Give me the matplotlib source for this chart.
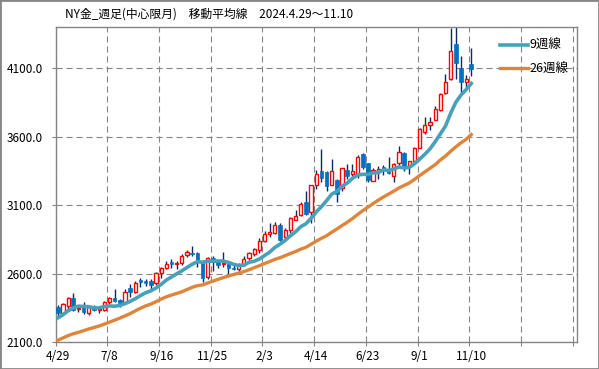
import matplotlib
matplotlib.use("Agg")
import matplotlib.pyplot as plt
from matplotlib.patches import Rectangle
import numpy as np
import pandas as pd

plt.rcParams['font.family'] = ['Noto Sans CJK JP', 'DejaVu Sans']

# 4/29より前の終値 (移動平均の計算用, 25週)
pre_close = [1932, 1975, 1992, 2072, 2010, 2025, 2058, 2062, 2041, 2041,
             2019, 2008, 2044, 2028, 2014, 2036, 2085, 2178, 2155, 2150,
             2230, 2340, 2370, 2410, 2342]

# 週足 2024/4/29 ~ 2025/11/10
week_open = [2354, 2314, 2363, 2420, 2338, 2354, 2312, 2350, 2335, 2334,
             2395, 2420, 2407, 2388, 2493, 2468, 2554, 2549, 2546, 2529,
             2607, 2644, 2688, 2672, 2676, 2737, 2748, 2749, 2688, 2574,
             2712, 2683, 2668, 2673, 2644, 2637, 2661, 2717, 2741, 2771,
             2839, 2888, 2893, 2953, 2868, 2917, 2995, 3027, 3124, 3051,
             3246, 3349, 3344, 3246, 3283, 3222, 3356, 3325, 3320, 3474,
             3405, 3278, 3339, 3380, 3364, 3314, 3405, 3480, 3384, 3421,
             3519, 3637, 3685, 3722, 3793, 3917, 4019, 4276, 4105, 4003,
             4134]
week_high = [2370, 2385, 2430, 2456, 2370, 2390, 2366, 2370, 2350, 2400,
             2430, 2488, 2415, 2490, 2522, 2545, 2570, 2560, 2560, 2615,
             2650, 2690, 2708, 2690, 2740, 2775, 2800, 2760, 2700, 2720,
             2725, 2690, 2761, 2690, 2660, 2680, 2725, 2760, 2790, 2860,
             2910, 2968, 2974, 2970, 2935, 3017, 3065, 3120, 3200, 3250,
             3360, 3509, 3350, 3440, 3290, 3370, 3400, 3403, 3470, 3480,
             3410, 3370, 3385, 3390, 3450, 3405, 3534, 3490, 3425, 3525,
             3665, 3745, 3746, 3825, 3920, 4060, 4398, 4420, 4190, 4050,
             4251]
week_low = [2285, 2305, 2340, 2325, 2320, 2305, 2300, 2325, 2310, 2325,
            2380, 2395, 2355, 2375, 2430, 2460, 2500, 2510, 2490, 2515,
            2570, 2635, 2640, 2630, 2660, 2720, 2730, 2650, 2540, 2560,
            2620, 2640, 2650, 2600, 2625, 2620, 2655, 2700, 2730, 2750,
            2830, 2870, 2890, 2835, 2850, 2900, 2990, 3020, 3030, 2970,
            3220, 3270, 3200, 3245, 3123, 3200, 3290, 3310, 3300, 3365,
            3270, 3275, 3290, 3320, 3325, 3270, 3390, 3350, 3330, 3400,
            3515, 3620, 3650, 3720, 3790, 3910, 4012, 4020, 3922, 3959,
            4044]
week_close = [2310, 2378, 2424, 2334, 2348, 2322, 2354, 2335, 2342, 2395,
              2420, 2403, 2385, 2468, 2468, 2534, 2539, 2529, 2517, 2607,
              2644, 2668, 2668, 2680, 2729, 2761, 2740, 2688, 2566, 2712,
              2685, 2665, 2678, 2644, 2630, 2665, 2710, 2751, 2783, 2836,
              2888, 2905, 2953, 2844, 2917, 3007, 3019, 3112, 3032, 3246,
              3327, 3295, 3241, 3349, 3180, 3369, 3314, 3349, 3454, 3380,
              3283, 3356, 3361, 3356, 3332, 3400, 3490, 3384, 3421, 3519,
              3658, 3685, 3710, 3800, 3915, 4003, 4227, 4142, 4000, 4019,
              4095]

tick_labels = ['4/29', '7/8', '9/16', '11/25', '2/3', '4/14', '6/23', '9/1', '11/10']
y_ticks = [2100, 2600, 3100, 3600, 4100]

title = 'NY金_週足(中心限月)　移動平均線　2024.4.29〜11.10'

# ---- 計算 ----
o = np.array(week_open)
h = np.array(week_high)
l = np.array(week_low)
c = np.array(week_close)
n = len(c)
x = np.arange(n) + 0.4

allc = pd.Series(pre_close + week_close, dtype=float)
ma9 = allc.rolling(9).mean().iloc[len(pre_close):].values
ma26 = allc.rolling(26).mean().iloc[len(pre_close):].values

W, H = 599, 369
fig = plt.figure(figsize=(W / 100, H / 100), dpi=100)
ax = fig.add_axes([55.7 / W, 1 - 342 / H, (577 - 55.7) / W, (342 - 27.3) / H])

grid_col = '#858585'
ax.set_axisbelow(True)
ax.grid(True, color=grid_col, linestyle=(0, (5.5, 3.5)), linewidth=0.8)

up = c >= o
# ヒゲ
ax.vlines(x, l, h, color='#0F2A60', linewidth=1.0, zorder=2)
# 実体
body_h = np.maximum(np.abs(c - o), 3)
body_b = np.minimum(o, c)
ax.bar(x[up], body_h[up], bottom=body_b[up], width=0.62,
       facecolor='white', edgecolor='#FF0000', linewidth=1.0, zorder=3)
ax.bar(x[~up], body_h[~up], bottom=body_b[~up], width=0.7,
       facecolor='#0070C0', edgecolor='#0070C0', linewidth=0.5, zorder=3)

ax.plot(x, ma26, color='#E0843A', linewidth=2.4, label='26週線', zorder=4)
ax.plot(x, ma9, color='#48A1B9', linewidth=2.6, label='9週線', zorder=5)

ax.set_xlim(0, 100.85)
ax.set_ylim(2100, 4400)

ax.set_xticks(np.arange(0, 101, 10))
ax.set_xticklabels([])
ax.set_xticks(np.arange(len(tick_labels)) * 10 + 0.4, tick_labels, minor=True)
ax.tick_params(axis='x', which='major', length=3, color=grid_col)
ax.tick_params(axis='x', which='minor', length=0, pad=6, labelsize=8.5)

ax.set_yticks(y_ticks, [f'{v:.1f}' for v in y_ticks])
ax.tick_params(axis='y', length=3, color=grid_col, pad=6, labelsize=8.5)

for s in ax.spines.values():
    s.set_color(grid_col)
    s.set_linewidth(1.0)

handles, labels = ax.get_legend_handles_labels()
leg = ax.legend(handles[::-1], labels[::-1], loc='upper left',
                bbox_to_anchor=(500 / W, 1 - 39 / H), bbox_transform=fig.transFigure,
                frameon=False, fontsize=9, handlelength=2.2, handletextpad=0.15,
                labelspacing=0.85, borderpad=0, borderaxespad=0)

fig.text(65 / W, 1 - 14 / H, title, ha='left', va='center', fontsize=8.5)

fig.patches.append(Rectangle((0, 0), 1, 1, transform=fig.transFigure, fill=False,
                             edgecolor='#868686', linewidth=2.0))

fig.savefig('out.png', dpi=100)
